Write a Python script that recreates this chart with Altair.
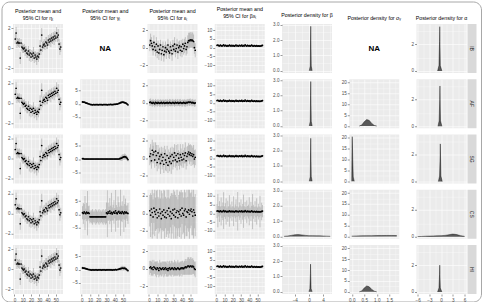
import json

import altair as alt
import pandas as pd

# ---------------------------------------------------------------- data
GROUPS = ["IB", "AF", "SG", "CS", "HI"]
T = list(range(1, 57))

# eta_t: posterior mean and 95% CI half-width (same fitted trend in every group)
ETA_MEAN = [0.9, 1.5, 0.5, 0.6, 0.5, 0.5, -1.0, 0.5,
            0.1, 0.0, -0.1, 0.0, -0.3, -0.2, -0.5, -0.6,
            -0.3, -0.7, -0.5, -0.9, -0.6, -0.8, -0.5, -1.0,
            -0.7, -0.9, -1.1, -0.8, -0.9, -0.6, 0.2, -0.2,
            1.3, 0.1, 0.3, 0.4, 0.2, 0.6, 0.5, 0.3,
            0.8, 0.6, 0.9, 0.7, 1.0, 0.8, 1.1, 0.9,
            1.2, 1.0, 1.5, 1.1, 1.3, 0.4, -0.1, 0.1]
ETA_HW = [0.5, 0.6, 0.5, 0.4, 0.4, 0.5, 0.6, 0.4,
          0.4, 0.5, 0.4, 0.4, 0.5, 0.4, 0.5, 0.4,
          0.5, 0.6, 0.4, 0.5, 0.4, 0.5, 0.6, 0.5,
          0.4, 0.5, 0.6, 0.4, 0.5, 0.5, 0.6, 0.5,
          0.7, 0.5, 0.4, 0.5, 0.4, 0.5, 0.6, 0.4,
          0.5, 0.4, 0.5, 0.6, 0.5, 0.4, 0.5, 0.6,
          0.5, 0.4, 0.6, 0.5, 0.6, 0.5, 0.6, 0.5]

# gamma_t (not estimated for IB)
GAMMA_AF = [0.7, 0.6, 0.6, 0.5, 0.3, 0.2, 0.1, 0.0,
            -0.1, -0.2, -0.3, -0.3, -0.4, -0.3, -0.3, -0.4,
            -0.3, -0.3, -0.3, -0.4, -0.3, -0.3, -0.3, -0.3,
            -0.4, -0.3, -0.3, -0.3, -0.3, -0.3, -0.4, -0.3,
            -0.3, -0.3, -0.2, -0.3, -0.3, -0.3, -0.2, -0.2,
            -0.2, -0.1, -0.1, 0.0, 0.1, 0.2, 0.4, 0.5,
            0.6, 0.6, 0.5, 0.4, 0.3, 0.1, -0.1, -0.4]
GAMMA_AF_HW = [0.4, 0.3, 0.3, 0.3, 0.3, 0.3, 0.3, 0.3,
               0.3, 0.3, 0.3, 0.3, 0.3, 0.3, 0.3, 0.3,
               0.3, 0.3, 0.3, 0.3, 0.3, 0.3, 0.3, 0.3,
               0.3, 0.3, 0.3, 0.3, 0.3, 0.3, 0.3, 0.3,
               0.3, 0.3, 0.3, 0.3, 0.3, 0.3, 0.3, 0.3,
               0.3, 0.3, 0.3, 0.3, 0.4, 0.4, 0.5, 0.5,
               0.5, 0.5, 0.5, 0.4, 0.4, 0.4, 0.4, 0.5]
GAMMA_SG = [0.1, 0.1, 0.0, 0.0, 0.0, 0.0, 0.0, 0.0,
            0.0, 0.0, 0.0, 0.0, 0.0, 0.0, 0.0, 0.0,
            0.0, 0.0, 0.0, 0.0, 0.0, 0.0, 0.0, 0.0,
            0.0, 0.0, 0.0, 0.0, 0.0, 0.0, 0.0, 0.0,
            0.0, 0.0, 0.0, 0.0, 0.0, 0.0, 0.0, 0.0,
            0.0, 0.0, 0.0, 0.0, 0.0, 0.1, 0.2, 0.3,
            0.5, 0.7, 0.8, 0.9, 0.8, 0.6, 0.2, -0.2]
GAMMA_SG_HW = [0.3, 0.2, 0.2, 0.2, 0.2, 0.2, 0.2, 0.2,
               0.2, 0.2, 0.2, 0.2, 0.2, 0.2, 0.2, 0.2,
               0.2, 0.2, 0.2, 0.2, 0.2, 0.2, 0.2, 0.2,
               0.2, 0.2, 0.2, 0.2, 0.2, 0.2, 0.2, 0.2,
               0.2, 0.2, 0.2, 0.2, 0.2, 0.2, 0.2, 0.2,
               0.2, 0.2, 0.2, 0.3, 0.4, 0.6, 0.8, 1.0,
               1.2, 1.1, 1.0, 1.2, 1.0, 0.9, 0.8, 0.7]
GAMMA_CS = [0.6, 0.3, 0.9, 0.5, 0.2, 0.8, 0.4, 0.6,
            0.3, -1.0, -1.0, -1.0, -1.0, -1.0, -1.0, -1.0,
            -1.0, -1.0, -1.0, -1.0, -1.0, -1.0, -1.0, -1.0,
            -1.0, -1.0, -1.0, -1.0, -1.0, 0.5, 0.2, 0.9,
            0.4, 1.2, 0.3, 0.7, 0.1, 0.6, 0.9, 0.4,
            1.3, 0.5, 0.2, 0.8, 1.1, 0.4, 0.7, 0.3,
            1.0, 0.6, 0.2, 0.9, 0.5, 0.8, 0.4, 0.3]
GAMMA_CS_HW = [2.5, 4.0, 3.0, 6.5, 2.0, 3.5, 8.5, 2.5,
               3.0, 2.5, 2.0, 2.5, 3.0, 2.0, 2.5, 2.0,
               3.0, 2.5, 2.0, 2.5, 3.0, 2.0, 2.5, 2.0,
               2.5, 3.0, 2.0, 2.5, 3.0, 4.0, 9.0, 3.5,
               2.5, 5.0, 3.0, 7.5, 2.5, 3.0, 4.5, 2.0,
               8.0, 3.0, 2.5, 6.0, 3.5, 2.5, 9.0, 3.0,
               4.0, 2.5, 7.0, 3.0, 5.5, 2.5, 3.0, 4.0]
GAMMA_HI = [0.6, 0.5, 0.5, 0.4, 0.3, 0.2, 0.1, 0.0,
            0.0, -0.1, -0.1, -0.2, -0.1, -0.1, -0.2, -0.1,
            -0.1, -0.1, -0.2, -0.1, -0.1, -0.1, -0.1, -0.2,
            -0.1, -0.1, -0.1, -0.1, -0.2, -0.1, -0.1, -0.1,
            -0.1, -0.1, -0.1, -0.1, -0.2, -0.1, -0.1, -0.1,
            0.0, -0.1, 0.0, 0.0, 0.1, 0.2, 0.3, 0.4,
            0.5, 0.5, 0.4, 0.5, 0.3, 0.1, -0.2, -0.4]
GAMMA_HI_HW = [0.5, 0.4, 0.4, 0.4, 0.4, 0.4, 0.4, 0.4,
               0.4, 0.4, 0.4, 0.4, 0.4, 0.4, 0.4, 0.4,
               0.4, 0.4, 0.4, 0.4, 0.4, 0.4, 0.4, 0.4,
               0.4, 0.4, 0.4, 0.4, 0.4, 0.4, 0.4, 0.4,
               0.4, 0.4, 0.4, 0.4, 0.4, 0.4, 0.4, 0.4,
               0.4, 0.4, 0.4, 0.5, 0.5, 0.6, 0.7, 0.8,
               0.9, 0.9, 0.8, 0.8, 0.7, 0.6, 0.6, 0.6]

# epsilon_t
EPS_IB = [0.3, 0.8, 0.5, 0.2, -0.2, 0.6, 0.1, -0.3,
          0.4, -0.5, 0.2, -0.6, -0.2, 0.3, -0.7, -0.3,
          0.1, -0.8, -0.4, 0.0, -0.5, -0.2, 0.3, -0.4,
          -0.6, 0.1, -0.3, -0.7, 0.2, -0.2, 0.4, -0.4,
          -0.1, 0.3, -0.5, 0.0, 0.2, -0.3, 0.1, -0.4,
          0.4, -0.1, 0.2, 0.5, -0.2, 0.1, 0.6, 0.8,
          0.8, 0.9, 0.8, 0.9, 0.8, 0.7, 0.0, -0.3]
EPS_IB_HW = [0.7, 0.8, 0.7, 0.6, 0.7, 0.8, 0.6, 0.7,
             0.8, 0.7, 0.6, 0.8, 0.7, 0.6, 0.8, 0.7,
             0.6, 0.8, 0.7, 0.7, 0.8, 0.6, 0.7, 0.8,
             0.7, 0.6, 0.7, 0.8, 0.7, 0.6, 0.8, 0.7,
             0.6, 0.7, 0.8, 0.7, 0.6, 0.7, 0.8, 0.7,
             0.6, 0.7, 0.8, 0.7, 0.7, 0.8, 0.8, 0.9,
             0.9, 0.9, 0.8, 0.9, 0.9, 0.8, 0.7, 0.8]
EPS_AF = [0.05, 0.1, 0.0, -0.05, 0.05, 0.0, -0.1, 0.05,
          0.0, -0.05, 0.05, 0.0, -0.05, 0.0, 0.05, -0.05,
          0.0, 0.05, -0.05, 0.0, 0.0, 0.05, -0.05, 0.0,
          0.05, 0.0, -0.05, 0.0, 0.05, 0.0, -0.05, 0.05,
          0.0, 0.0, 0.05, -0.05, 0.0, 0.05, 0.0, -0.05,
          0.0, 0.05, 0.0, -0.05, 0.05, 0.0, 0.05, 0.1,
          0.05, 0.1, 0.05, 0.0, 0.05, 0.0, -0.05, 0.0]
EPS_AF_HW = [0.4, 0.4, 0.3, 0.4, 0.4, 0.3, 0.4, 0.4,
             0.3, 0.4, 0.4, 0.3, 0.4, 0.4, 0.3, 0.4,
             0.4, 0.3, 0.4, 0.4, 0.3, 0.4, 0.4, 0.3,
             0.4, 0.4, 0.3, 0.4, 0.4, 0.3, 0.4, 0.4,
             0.3, 0.4, 0.4, 0.3, 0.4, 0.4, 0.3, 0.4,
             0.4, 0.3, 0.4, 0.4, 0.3, 0.4, 0.4, 0.3,
             0.4, 0.4, 0.3, 0.4, 0.4, 0.3, 0.4, 0.4]
EPS_SG = [0.2, 0.5, -0.3, 0.9, 0.4, 0.7, -0.2, 0.8,
          0.3, -0.5, 0.6, -0.1, 0.2, -0.6, 0.4, -0.3,
          0.1, -0.7, 0.5, -0.2, -0.5, 0.3, -0.8, 0.0,
          -0.4, 0.2, -0.6, 0.4, -0.3, 0.1, 0.6, -0.2,
          0.3, -0.4, 0.5, 0.0, -0.3, 0.4, 0.1, -0.2,
          0.5, -0.1, 0.3, 0.6, -0.3, 0.2, 0.5, 0.7,
          0.4, 0.6, 0.3, 0.5, 0.2, 0.4, -0.1, 0.1]
EPS_SG_HW = [1.0, 1.1, 0.9, 1.2, 1.0, 1.1, 0.9, 1.0,
             1.2, 1.0, 0.9, 1.1, 1.0, 1.2, 0.9, 1.0,
             1.1, 1.0, 0.9, 1.2, 1.0, 1.1, 0.9, 1.0,
             1.1, 1.0, 1.2, 0.9, 1.0, 1.1, 1.0, 0.9,
             1.2, 1.0, 1.1, 0.9, 1.0, 1.2, 1.0, 0.9,
             1.1, 1.0, 0.9, 1.2, 1.0, 1.1, 0.9, 1.0,
             1.1, 1.0, 1.2, 0.9, 1.0, 1.1, 1.0, 0.9]
EPS_CS = [0.3, -0.2, 0.5, 0.1, -0.4, 0.6, 0.2, -0.1,
          0.4, -0.5, 0.1, -0.3, 0.5, 0.0, -0.6, 0.2,
          -0.2, 0.4, -0.4, 0.1, -0.5, 0.3, -0.1, 0.6,
          -0.3, 0.2, -0.6, 0.0, 0.4, -0.2, 0.5, -0.4,
          0.1, 0.3, -0.5, 0.2, -0.1, 0.4, -0.3, 0.6,
          0.0, -0.2, 0.3, 0.5, -0.4, 0.2, 0.1, 0.4,
          -0.1, 0.3, 0.5, 0.2, -0.3, 0.4, 0.1, -0.2]
EPS_CS_HW = [1.8, 2.5, 1.6, 3.0, 2.0, 1.7, 2.8, 1.9,
             2.2, 3.5, 1.8, 2.0, 2.6, 1.7, 3.2, 2.1,
             1.9, 2.4, 3.0, 1.8, 2.2, 2.7, 1.9, 3.4,
             2.0, 1.8, 2.9, 2.3, 1.7, 3.1, 2.0, 2.5,
             1.8, 3.3, 2.1, 1.9, 2.6, 2.0, 3.0, 1.8,
             2.4, 2.0, 3.6, 1.9, 2.2, 2.8, 1.8, 2.5,
             3.1, 2.0, 1.9, 2.7, 2.2, 3.3, 1.8, 2.4]
EPS_HI = [0.1, 0.2, 0.0, 0.1, -0.1, 0.2, 0.1, 0.0,
          -0.1, 0.1, 0.0, -0.2, 0.1, 0.0, -0.1, 0.0,
          0.1, -0.1, 0.0, 0.1, -0.1, 0.0, -0.2, 0.0,
          0.1, -0.1, 0.0, 0.1, 0.0, -0.1, 0.1, 0.0,
          -0.1, 0.0, 0.1, 0.0, -0.1, 0.0, 0.1, 0.0,
          0.1, 0.0, 0.1, 0.2, 0.1, 0.2, 0.3, 0.3,
          0.2, 0.3, 0.3, 0.2, 0.3, 0.2, 0.0, -0.1]
EPS_HI_HW = [0.8, 0.7, 0.8, 0.9, 0.7, 0.8, 0.7, 0.8,
             0.9, 0.8, 0.7, 0.8, 0.9, 0.7, 0.8, 0.8,
             0.7, 0.9, 0.8, 0.7, 0.8, 0.9, 0.7, 0.8,
             0.8, 0.7, 0.9, 0.8, 0.7, 0.8, 0.9, 0.8,
             0.7, 0.8, 0.9, 0.7, 0.8, 0.8, 0.7, 0.9,
             0.8, 0.7, 0.8, 0.9, 0.8, 0.9, 1.0, 1.0,
             0.9, 1.0, 1.0, 0.9, 0.9, 0.8, 0.8, 0.9]

# beta * x_t
BX_MEAN = [1.3, 1.5, 1.2, 1.0, 1.4, 1.1, 0.9, 1.2,
           1.6, 1.0, 1.3, 1.1, 0.8, 1.2, 1.0, 1.4,
           1.1, 0.9, 1.3, 1.0, 1.2, 0.8, 1.1, 1.5,
           1.0, 1.2, 0.9, 1.3, 1.1, 1.0, 1.4, 0.9,
           1.2, 1.0, 1.6, 1.1, 0.9, 1.3, 1.0, 1.2,
           0.8, 1.1, 1.4, 1.0, 0.9, 1.2, 1.0, 0.8,
           1.1, 0.9, 1.0, 0.8, 1.0, 0.9, 1.1, 1.3]
BX_HW = [0.5, 0.6, 0.5, 0.4, 0.6, 0.5, 0.4, 0.5,
         0.6, 0.4, 0.5, 0.5, 0.4, 0.5, 0.4, 0.6,
         0.5, 0.4, 0.5, 0.4, 0.5, 0.4, 0.5, 0.6,
         0.4, 0.5, 0.4, 0.5, 0.5, 0.4, 0.6, 0.4,
         0.5, 0.4, 0.6, 0.5, 0.4, 0.5, 0.4, 0.5,
         0.4, 0.5, 0.6, 0.4, 0.4, 0.5, 0.4, 0.4,
         0.5, 0.4, 0.5, 0.4, 0.5, 0.4, 0.5, 0.6]
BX_CS_HW = [4.0, 9.5, 3.0, 6.0, 2.5, 8.0, 3.5, 5.0,
            10.5, 3.0, 4.5, 7.5, 2.5, 6.0, 3.0, 9.0,
            4.0, 2.5, 5.5, 3.0, 8.5, 2.5, 4.0, 6.5,
            3.0, 11.0, 2.5, 5.0, 3.5, 7.0, 2.5, 4.5,
            9.5, 3.0, 5.0, 2.5, 6.5, 3.0, 4.0, 8.0,
            2.5, 5.5, 3.0, 10.0, 4.0, 2.5, 6.0, 3.0,
            7.5, 2.5, 4.5, 3.0, 9.0, 2.5, 5.0, 3.5]

# posterior densities (x grid, density) for beta, sigma_gamma and alpha
BETA_X = {"IB": [0.1, 0.35, 0.45, 0.5, 0.55, 0.65, 0.9],
          "AF": [0.1, 0.35, 0.45, 0.5, 0.55, 0.65, 0.9],
          "SG": [0.1, 0.35, 0.45, 0.5, 0.55, 0.65, 0.9],
          "CS": [-7.0, -6.0, -5.0, -4.0, -3.0, -2.0, -1.0, 0.0, 1.0, 2.0, 3.0, 4.0, 5.0, 6.0],
          "HI": [0.0, 0.25, 0.4, 0.45, 0.5, 0.6, 0.9]}
BETA_D = {"IB": [0.0, 0.3, 2.0, 2.9, 2.0, 0.3, 0.0],
          "AF": [0.0, 0.3, 2.0, 2.9, 2.0, 0.3, 0.0],
          "SG": [0.0, 0.3, 1.9, 2.8, 1.9, 0.3, 0.0],
          "CS": [0.01, 0.03, 0.07, 0.11, 0.12, 0.1, 0.07, 0.05, 0.05, 0.04, 0.04, 0.03, 0.02, 0.01],
          "HI": [0.0, 0.2, 1.2, 1.8, 1.2, 0.2, 0.0]}
SIGMA_X = {"AF": [0.3, 0.4, 0.5, 0.6, 0.7, 0.8, 0.9, 1.0],
           "SG": [0.0, 0.01, 0.02, 0.04, 0.06, 0.1],
           "CS": [0.0, 0.2, 0.4, 0.6, 0.8, 1.0, 1.2, 1.4, 1.6, 1.8],
           "HI": [0.3, 0.4, 0.5, 0.6, 0.7, 0.8, 0.9, 1.0]}
SIGMA_D = {"AF": [0.0, 0.5, 2.0, 3.0, 2.6, 1.2, 0.3, 0.0],
           "SG": [0.0, 15.0, 20.5, 10.0, 2.0, 0.0],
           "CS": [0.2, 0.3, 0.35, 0.4, 0.4, 0.45, 0.45, 0.5, 0.5, 0.45],
           "HI": [0.0, 0.4, 1.8, 2.7, 2.3, 1.1, 0.3, 0.0]}
ALPHA_X = {"IB": [-0.9, -0.55, -0.4, -0.35, -0.3, -0.2, 0.2],
           "AF": [-0.8, -0.5, -0.35, -0.3, -0.25, -0.15, 0.2],
           "SG": [-0.7, -0.4, -0.25, -0.2, -0.15, -0.05, 0.3],
           "CS": [-6.0, -5.0, -4.0, -3.0, -2.0, -1.0, 0.0, 1.0, 2.0, 3.0, 4.0, 5.0, 6.0],
           "HI": [-0.9, -0.55, -0.4, -0.35, -0.3, -0.2, 0.2]}
ALPHA_D = {"IB": [0.0, 0.4, 2.2, 3.3, 2.2, 0.4, 0.0],
           "AF": [0.0, 0.4, 2.0, 3.0, 2.0, 0.4, 0.0],
           "SG": [0.0, 0.4, 1.9, 2.8, 1.9, 0.4, 0.0],
           "CS": [0.01, 0.02, 0.04, 0.05, 0.06, 0.07, 0.08, 0.1, 0.15, 0.2, 0.16, 0.08, 0.03],
           "HI": [0.0, 0.3, 1.3, 2.0, 1.3, 0.3, 0.0]}

GAMMA = {"AF": (GAMMA_AF, GAMMA_AF_HW), "SG": (GAMMA_SG, GAMMA_SG_HW),
         "CS": (GAMMA_CS, GAMMA_CS_HW), "HI": (GAMMA_HI, GAMMA_HI_HW)}
EPS = {"IB": (EPS_IB, EPS_IB_HW), "AF": (EPS_AF, EPS_AF_HW), "SG": (EPS_SG, EPS_SG_HW),
       "CS": (EPS_CS, EPS_CS_HW), "HI": (EPS_HI, EPS_HI_HW)}
BX_HW_BY_GROUP = {"IB": BX_HW, "AF": BX_HW, "SG": BX_HW, "CS": BX_CS_HW, "HI": BX_HW}

TITLES = [["Posterior mean and", "95% CI for \u03b7\u209c"],
          ["Posterior mean and", "95% CI for \u03b3\u209c"],
          ["Posterior mean and", "95% CI for \u03b5\u209c"],
          ["Posterior mean and", "95% CI for \u03b2x\u209c"],
          ["Posterior density for \u03b2"],
          ["Posterior density for \u03c3\u1d67"],
          ["Posterior density for \u03b1"]]

# ---------------------------------------------------------------- style
FONT = "Liberation Sans"
PANEL_BG = "#EBEBEB"
CI_GREY = "#A3A3A3"
W, H = 50, 49
COL_GAP, ROW_GAP = 17.25, 6.25


def make_axis(majors, minors, show, fmt=None):
    test = "indexof(%s, datum.value) >= 0" % json.dumps(majors)
    kw = dict(values=sorted(majors + minors), title=None, labelOverlap=False,
              labelFlush=False, labels=show, ticks=show,
              gridWidth={"condition": {"test": test, "value": 0.6}, "value": 0.3},
              tickOpacity={"condition": {"test": test, "value": 1}, "value": 0},
              labelExpr="%s ? datum.label : ''" % test)
    if fmt:
        kw["format"] = fmt
    return alt.Axis(**kw)


def head(title):
    return alt.TitleParams(text=title, fontSize=5.3, font=FONT, fontWeight="normal",
                           color="black", anchor="middle", frame="group", offset=3,
                           lineHeight=7)


def finish(chart, title):
    chart = chart.properties(width=W, height=H,
                             view=alt.ViewBackground(fill=PANEL_BG, stroke=None))
    if title:
        chart = chart.properties(title=head(title))
    return chart


T_DOMAIN = [-1.75, 58.75]
T_MAJ = [0, 10, 20, 30, 40, 50]
T_MIN = [5, 15, 25, 35, 45, 55]


def frame_layer():
    # light rounded border enclosing the whole figure; drawn from the second
    # row's first panel, so offsets are relative to that panel's origin
    top = -(22 + H + ROW_GAP)
    return alt.Chart(pd.DataFrame({"f": [0]})).mark_rect(
        filled=False, stroke="#A8A8A8", strokeWidth=1, cornerRadius=8).encode(
        x=alt.value(-11), x2=alt.value(6 * (W + COL_GAP) + W + 15),
        y=alt.value(top), y2=alt.value(top + 300))


def ts_panel(mean, hw, ydom, ymaj, ymin, bottom, title, extra=None):
    df = pd.DataFrame({"t": T, "mean": mean,
                       "lo": [m - h for m, h in zip(mean, hw)],
                       "hi": [m + h for m, h in zip(mean, hw)]})
    xs = alt.Scale(domain=T_DOMAIN, nice=False, zero=False)
    xa = make_axis(T_MAJ, T_MIN, bottom)
    ys = alt.Scale(domain=ydom, nice=False, zero=False)
    ya = make_axis(ymaj, ymin, True)
    bars = alt.Chart(df).mark_rule(color=CI_GREY, strokeWidth=0.6, clip=True).encode(
        x=alt.X("t:Q", scale=xs, axis=xa),
        y=alt.Y("lo:Q", scale=ys, axis=ya), y2="hi:Q")
    dots = alt.Chart(df).mark_circle(color="black", size=3, opacity=1, clip=True).encode(
        x=alt.X("t:Q", scale=xs, axis=xa),
        y=alt.Y("mean:Q", scale=ys, axis=ya))
    return finish(alt.layer(bars, dots, *(extra or [])), title)


def dens_panel(xv, dv, xdom, xmaj, xmin, ydom, ymaj, ymin, bottom, title, fmt=None, extra=None):
    df = pd.DataFrame({"x": xv, "d": dv})
    area = alt.Chart(df).mark_area(color="#595959", opacity=1, clip=True,
                                   line={"color": "black", "strokeWidth": 0.4}).encode(
        x=alt.X("x:Q", scale=alt.Scale(domain=xdom, nice=False, zero=False),
                axis=make_axis(xmaj, xmin, bottom, fmt)),
        y=alt.Y("d:Q", scale=alt.Scale(domain=ydom, nice=False, zero=False),
                axis=make_axis(ymaj, ymin, True)))
    return finish(alt.layer(area, *(extra or [])), title)


def na_panel(title):
    txt = alt.Chart(pd.DataFrame({"lab": ["NA"]})).mark_text(
        fontSize=8, fontWeight="bold", font=FONT, color="black").encode(
        text="lab:N", x=alt.value(W / 2), y=alt.value(H / 2))
    chart = txt.properties(width=W, height=H, view=alt.ViewBackground(fill=None, stroke=None))
    if title:
        chart = chart.properties(title=head(title))
    return chart


def strip_layers(group):
    sdf = pd.DataFrame({"g": [group]})
    box = alt.Chart(sdf).mark_rect(color="#D9D9D9").encode(
        x=alt.value(W + 1), x2=alt.value(W + 10), y=alt.value(0), y2=alt.value(H))
    lab = alt.Chart(sdf).mark_text(angle=90, fontSize=5, font=FONT, color="#1A1A1A").encode(
        text="g:N", x=alt.value(W + 5.5), y=alt.value(H / 2))
    return [box, lab]


panels = []
for r, g in enumerate(GROUPS):
    bottom = r == len(GROUPS) - 1
    tt = (lambda i: TITLES[i]) if r == 0 else (lambda i: None)
    panels += [
        ts_panel(ETA_MEAN, ETA_HW, [-2.5, 2.4], [-2, 0, 2], [-1, 1], bottom, tt(0),
                 extra=[frame_layer()] if r == 1 else None),
        na_panel(tt(1)) if g not in GAMMA else
        ts_panel(GAMMA[g][0], GAMMA[g][1], [-9.4, 9.4], [-5, 0, 5], [-7.5, -2.5, 2.5, 7.5], bottom, tt(1)),
        ts_panel(EPS[g][0], EPS[g][1], [-2.9, 2.7], [-2, 0, 2], [-1, 1], bottom, tt(2)),
        ts_panel(BX_MEAN, BX_HW_BY_GROUP[g], [-14.5, 13.5], [-10, -5, 0, 5, 10],
                 [-12.5, -7.5, -2.5, 2.5, 7.5, 12.5], bottom, tt(3)),
        dens_panel(BETA_X[g], BETA_D[g], [-7.6, 6.5], [-4, 0, 4], [-6, -2, 2, 6],
                   [-0.15, 3.05], [0, 1, 2, 3], [0.5, 1.5, 2.5], bottom, tt(4)),
        na_panel(tt(5)) if g not in SIGMA_X else
        dens_panel(SIGMA_X[g], SIGMA_D[g], [-0.1, 1.9], [0, 0.5, 1, 1.5], [0.25, 0.75, 1.25, 1.75],
                   [-1.0, 21.5], [0, 5, 10, 15, 20], [2.5, 7.5, 12.5, 17.5], bottom, tt(5), fmt=".1f"),
        dens_panel(ALPHA_X[g], ALPHA_D[g], [-6.3, 6.5], [-6, -3, 0, 3, 6], [-4.5, -1.5, 1.5, 4.5],
                   [-0.15, 3.5], [0, 2], [1, 3], bottom, tt(6), extra=strip_layers(g)),
    ]

chart = alt.concat(*panels, columns=7, spacing={"row": ROW_GAP, "column": COL_GAP},
                   bounds="flush").properties(
    padding={"left": 1, "top": 1, "right": 0, "bottom": 0},
    background="white",
).configure_axis(
    labelFontSize=4.6, labelColor="#4D4D4D", labelFont=FONT, labelPadding=1,
    tickColor="#333333", tickSize=2, tickWidth=0.5, domain=False, gridColor="white",
)

chart.save("out.html", embed_options={"renderer": "svg", "actions": False})
